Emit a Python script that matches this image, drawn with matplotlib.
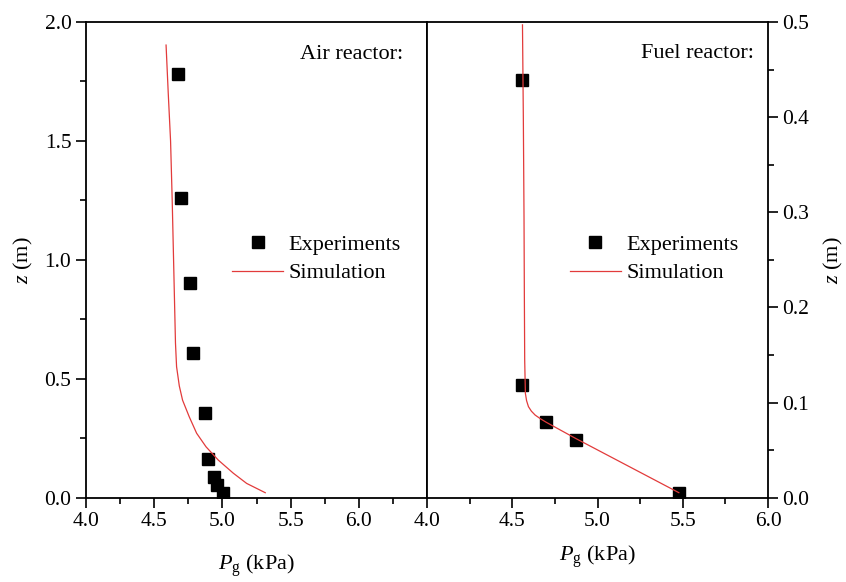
import numpy as np
import matplotlib
matplotlib.use("Agg")
import matplotlib.pyplot as plt
from matplotlib.ticker import MultipleLocator, FixedLocator

plt.rcParams['font.family'] = ['Liberation Serif', 'DejaVu Serif']
plt.rcParams['mathtext.fontset'] = 'custom'
plt.rcParams['mathtext.rm'] = 'Liberation Serif'
plt.rcParams['mathtext.it'] = 'Liberation Serif:italic'

# air reactor (left panel)
air_exp_p = [4.674, 4.697, 4.763, 4.784, 4.875, 4.894, 4.940, 4.963, 5.005]
air_exp_z = [1.781, 1.260, 0.901, 0.607, 0.355, 0.164, 0.086, 0.052, 0.021]
air_sim_p = [4.587, 4.603, 4.620, 4.632, 4.642, 4.648, 4.652, 4.656, 4.664,
             4.684, 4.708, 4.757, 4.811, 4.880, 4.970, 5.080, 5.178, 5.314]
air_sim_z = [1.903, 1.700, 1.500, 1.250, 1.000, 0.850, 0.750, 0.650, 0.551,
             0.470, 0.410, 0.340, 0.271, 0.214, 0.158, 0.103, 0.060, 0.021]

# fuel reactor (right panel)
fuel_exp_p = [4.556, 4.558, 4.700, 4.875, 5.477]
fuel_exp_z = [0.4387, 0.1188, 0.0792, 0.0603, 0.0053]
fuel_sim_p = [4.560, 4.565, 4.569, 4.571, 4.573, 4.577, 4.584, 4.595, 4.612, 4.634, 4.665, 4.700, 4.875, 5.477]
fuel_sim_z = [0.497, 0.400, 0.295, 0.2127, 0.1447, 0.1097, 0.1020, 0.0957, 0.0910, 0.0869, 0.0830, 0.0792, 0.0620, 0.0053]

red = '#e23b3b'
fig = plt.figure(figsize=(8.46, 5.82), dpi=100)
ax1 = fig.add_axes([86 / 846, 84.3 / 582, 341 / 846, 475.7 / 582])
ax2 = fig.add_axes([427 / 846, 84.3 / 582, 341 / 846, 475.7 / 582])

for ax in (ax1, ax2):
    for s in ax.spines.values():
        s.set_linewidth(1.3)
    ax.tick_params(which='major', direction='out', length=7, width=1.2, labelsize=15.5)
    ax.tick_params(which='minor', direction='out', length=4, width=1.2)

ax1.plot(air_exp_p, air_exp_z, 's', color='black', ms=8.5, label='Experiments', zorder=2)
ax1.plot(air_sim_p, air_sim_z, '-', color=red, lw=0.9, label='Simulation', zorder=3)
ax1.set_xlim(4.0, 6.5)
ax1.set_ylim(0, 2.0)
ax1.xaxis.set_major_locator(FixedLocator([4.0, 4.5, 5.0, 5.5, 6.0]))
ax1.xaxis.set_minor_locator(FixedLocator([4.25, 4.75, 5.25, 5.75, 6.25]))
ax1.yaxis.set_major_locator(MultipleLocator(0.5))
ax1.yaxis.set_minor_locator(MultipleLocator(0.25))
ax1.set_xticklabels(['4.0', '4.5', '5.0', '5.5', '6.0'])
ax1.set_ylabel(r'$z$ (m)', fontsize=16, labelpad=7)
ax1.set_xlabel(r'$P_{\mathrm{g}}$ (kPa)', fontsize=16, labelpad=15)
ax1.text(0.93, 0.931, 'Air reactor:', transform=ax1.transAxes, ha='right', va='center', fontsize=16)
ax1.legend(loc='center left', bbox_to_anchor=(0.428, 0.502), frameon=False, fontsize=16,
           borderpad=0, borderaxespad=0, handlelength=2.3, handletextpad=0.25, labelspacing=0.35)

ax2.plot(fuel_exp_p, fuel_exp_z, 's', color='black', ms=8.5, label='Experiments', zorder=2)
ax2.plot(fuel_sim_p, fuel_sim_z, '-', color=red, lw=0.9, label='Simulation', zorder=3)
ax2.set_xlim(4.0, 6.0)
ax2.set_ylim(0, 0.5)
ax2.xaxis.set_major_locator(MultipleLocator(0.5))
ax2.xaxis.set_minor_locator(MultipleLocator(0.25))
ax2.yaxis.set_major_locator(MultipleLocator(0.1))
ax2.yaxis.set_minor_locator(MultipleLocator(0.05))
ax2.yaxis.tick_right()
ax2.yaxis.set_label_position('right')
ax2.set_ylabel(r'$z$ (m)', fontsize=16, labelpad=9)
ax2.set_xlabel(r'$P_{\mathrm{g}}$ (kPa)', fontsize=16, labelpad=9)
ax2.text(0.959, 0.933, 'Fuel reactor:', transform=ax2.transAxes, ha='right', va='center', fontsize=16)
ax2.legend(loc='center left', bbox_to_anchor=(0.419, 0.502), frameon=False, fontsize=16,
           borderpad=0, borderaxespad=0, handlelength=2.3, handletextpad=0.25, labelspacing=0.35)

fig.savefig('out.png', dpi=100)
